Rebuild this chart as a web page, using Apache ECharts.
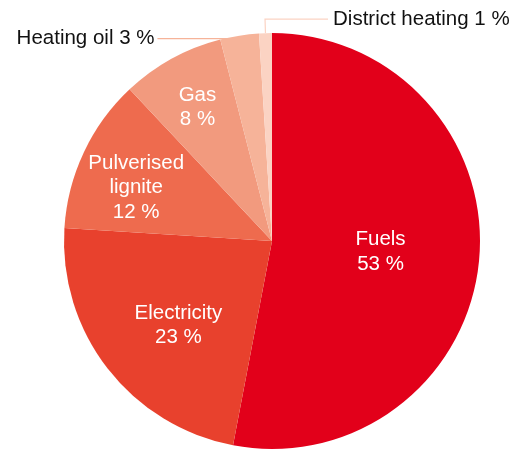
<!DOCTYPE html>
<html><head><meta charset="utf-8">
<script src="https://cdn.jsdelivr.net/npm/echarts@6/dist/echarts.min.js"></script>
<style>html,body{margin:0;padding:0;background:#fff}#c{width:523px;height:450px}</style>
</head><body><div id="c"></div>
<script>
const categories = ['Fuels', 'Electricity', 'Pulverised\nlignite', 'Gas', 'Heating oil', 'District heating'];
const values = [53, 23, 12, 8, 3, 1];
const colors = ['#e2001a', '#e8412d', '#ee6b4e', '#f29a7e', '#f6b399', '#fbd3c3'];
const insideOffsets = [[2, 1], [-9, 19], [-39, -8], [-23, -40]];

const font = 'Liberation Sans, Arial, Helvetica, sans-serif';
const FS = 20.5;
const data = categories.map((name, i) => {
  const item = { name, value: values[i], itemStyle: { color: colors[i] } };
  if (i < 4) {
    item.label = { position: 'inside', color: '#fff', fontSize: FS, lineHeight: 24.5, offset: insideOffsets[i],
      formatter: p => p.name + '\n' + p.value + ' %' };
  } else {
    item.label = { position: 'outside', color: '#111', fontSize: FS, formatter: p => p.name + ' ' + p.value + ' %' };
    item.labelLine = { show: true, length: i === 4 ? 2 : 14, length2: i === 4 ? 78 : 60, lineStyle: { color: colors[i], width: 1.2 } };
  }
  return item;
});

const chart = echarts.init(document.getElementById('c'), null, { renderer: 'canvas' });
chart.setOption({
  animation: false,
  textStyle: { fontFamily: font },
  series: [{
    type: 'pie',
    center: [272, 241],
    radius: 208,
    startAngle: 90,
    clockwise: true,
    avoidLabelOverlap: false,
    itemStyle: { borderWidth: 0 },
    label: { fontFamily: font },
    labelLayout: function (params) {
      const pts = params.labelLinePoints;
      if (!pts) return {};
      if (params.dataIndex === 5) {
        const p0 = pts[0], p1 = pts[1];
        const p2 = [p1[0] + 63, p1[1]];
        return { labelLinePoints: [p0, p1, p2], x: p2[0] + 5, y: p2[1], align: 'left', verticalAlign: 'middle' };
      }
      if (params.dataIndex === 4) {
        const p0 = pts[0];
        const p1 = [p0[0], p0[1] + 3];
        const p2 = [p0[0] - 82, p0[1] + 3];
        return { labelLinePoints: [p1, p1, p2], x: p2[0] - 3, y: p2[1], align: 'right', verticalAlign: 'middle' };
      }
      return {};
    },
    data
  }]
});
</script></body></html>
